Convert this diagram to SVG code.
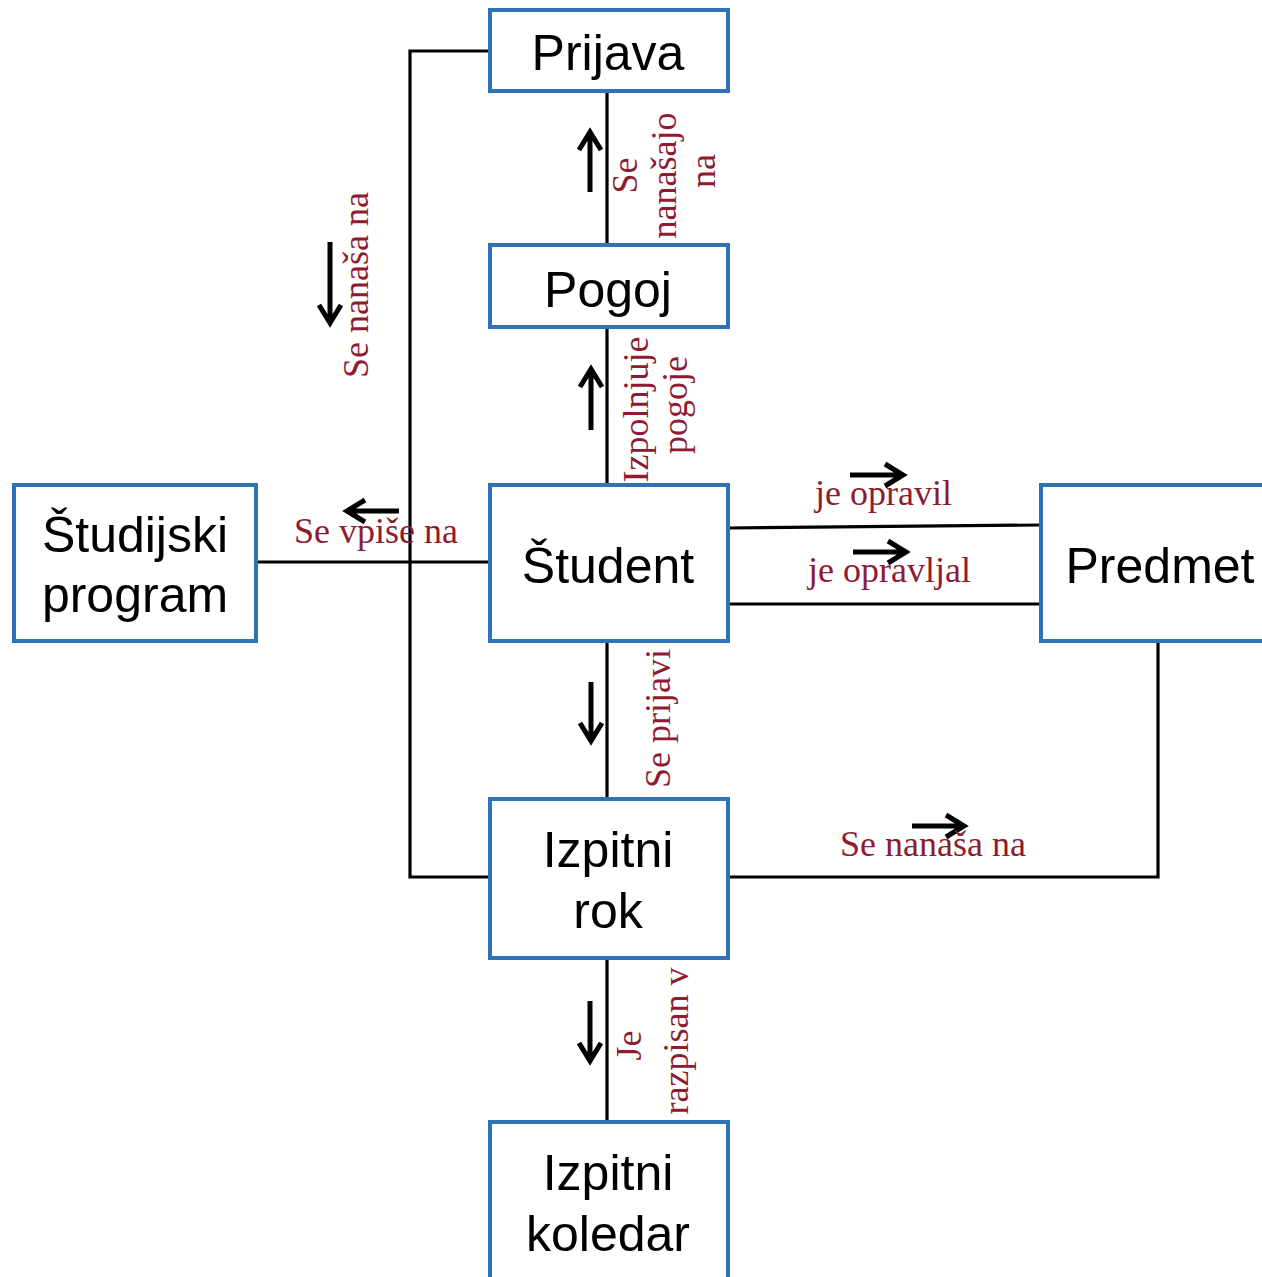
<svg xmlns="http://www.w3.org/2000/svg" width="1262" height="1277" viewBox="0 0 1262 1277">
  <style>
    .box { fill: #ffffff; stroke: #2E73B8; stroke-width: 4; }
    .name { font-family: "Liberation Sans", Arial, sans-serif; font-size: 50px; fill: #000000; text-anchor: middle; }
    .link { fill: none; stroke: #000000; stroke-width: 3.2; }
    .rel { font-family: "Liberation Serif", "Times New Roman", serif; font-size: 36px; fill: #8E1B2F; }
    .dir { fill: none; stroke: #000000; stroke-width: 5; stroke-linejoin: miter; }
  </style>
  <rect width="1262" height="1277" fill="#ffffff"/>

  <!-- connectors -->
  <g id="connectors">
    <line class="link" x1="607" y1="91" x2="607" y2="245"/>
    <line class="link" x1="607" y1="327" x2="607" y2="485"/>
    <line class="link" x1="607" y1="641" x2="607" y2="799"/>
    <line class="link" x1="607" y1="958" x2="607" y2="1122"/>
    <polyline class="link" points="490,51 410,51 410,877 490,877"/>
    <line class="link" x1="256" y1="562" x2="490" y2="562"/>
    <line class="link" x1="728" y1="528" x2="1041" y2="525"/>
    <line class="link" x1="728" y1="604" x2="1041" y2="604"/>
    <polyline class="link" points="728,877 1158,877 1158,643"/>

    <!-- direction arrows -->
    <path class="dir" d="M590,192 V132 M579,150 L590,132 L601,150"/>
    <path class="dir" d="M330,242 V323 M319,305 L330,323 L341,305"/>
    <path class="dir" d="M591,430 V369 M580,387 L591,369 L602,387"/>
    <path class="dir" d="M399,511 H347 M365,500 L347,511 L365,522"/>
    <path class="dir" d="M850,475 H903 M885,464 L903,475 L885,486"/>
    <path class="dir" d="M853,552 H906 M888,541 L906,552 L888,563"/>
    <path class="dir" d="M591,682 V741 M580,723 L591,741 L602,723"/>
    <path class="dir" d="M590,1001 V1061 M579,1043 L590,1061 L601,1043"/>
    <path class="dir" d="M912,826 H964 M946,815 L964,826 L946,837"/>

    <!-- relation labels -->
    <text class="rel" text-anchor="middle" transform="translate(0,171) rotate(-90)">
      <tspan x="0" y="637">Se</tspan>
      <tspan x="0" y="676">nanašajo</tspan>
      <tspan x="0" y="715">na</tspan>
    </text>
    <text class="rel" transform="translate(368,378) rotate(-90)">Se nanaša na</text>
    <text class="rel" text-anchor="middle" transform="translate(0,405) rotate(-90)">
      <tspan x="0" y="648">Izpolnjuje</tspan>
      <tspan x="0" y="687">pogoje</tspan>
    </text>
    <text class="rel" x="294" y="543">Se vpiše na</text>
    <text class="rel" x="815" y="505">je opravil</text>
    <text class="rel" x="808" y="582">je opravljal</text>
    <text class="rel" transform="translate(670,788) rotate(-90)">Se prijavi</text>
    <text class="rel" text-anchor="middle" transform="translate(0,1041) rotate(-90)">
      <tspan x="0" y="641">Je</tspan>
      <tspan x="0" y="688">razpisan v</tspan>
    </text>
    <text class="rel" x="840" y="856">Se nanaša na</text>
  </g>

  <!-- nodes -->
  <g id="prijava">
    <rect class="box" x="490" y="10" width="238" height="81"/>
    <text class="name" x="608" y="70">Prijava</text>
  </g>
  <g id="pogoj">
    <rect class="box" x="490" y="245" width="238" height="82"/>
    <text class="name" x="608" y="307">Pogoj</text>
  </g>
  <g id="student">
    <rect class="box" x="490" y="485" width="238" height="156"/>
    <text class="name" x="608" y="583">Študent</text>
  </g>
  <g id="studijski-program">
    <rect class="box" x="14" y="485" width="242" height="156"/>
    <text class="name" x="135" y="552">Študijski</text>
    <text class="name" x="135" y="612">program</text>
  </g>
  <g id="predmet">
    <rect class="box" x="1041" y="485" width="240" height="156"/>
    <text class="name" x="1160" y="583">Predmet</text>
  </g>
  <g id="izpitni-rok">
    <rect class="box" x="490" y="799" width="238" height="159"/>
    <text class="name" x="608" y="867">Izpitni</text>
    <text class="name" x="608" y="928">rok</text>
  </g>
  <g id="izpitni-koledar">
    <rect class="box" x="490" y="1122" width="238" height="170"/>
    <text class="name" x="608" y="1190">Izpitni</text>
    <text class="name" x="608" y="1251">koledar</text>
  </g>
</svg>
